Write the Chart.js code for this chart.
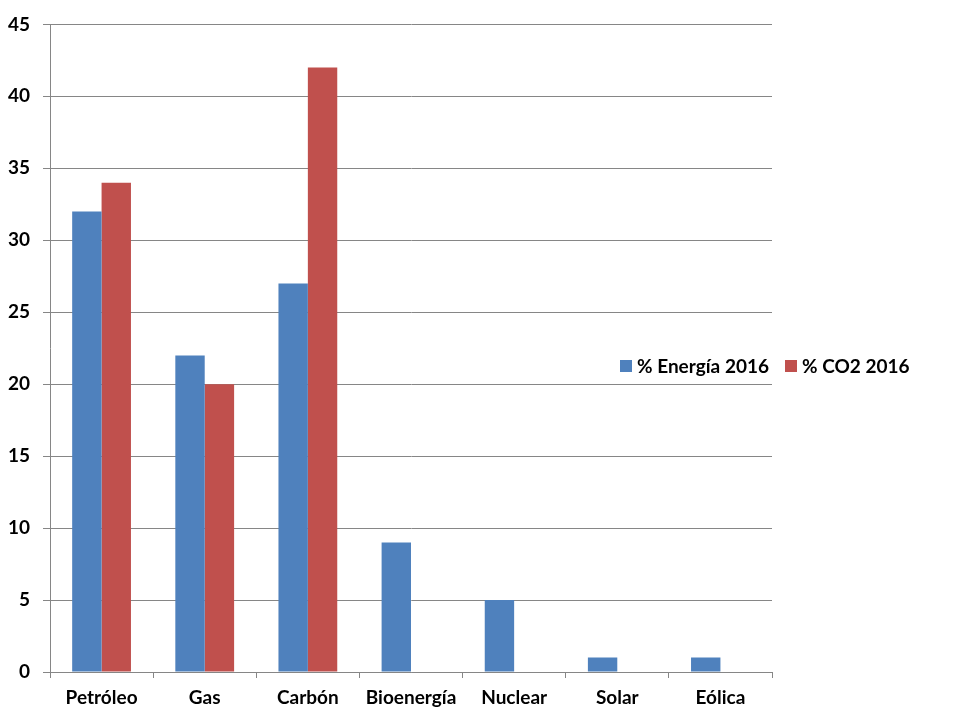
<!DOCTYPE html>
<html>
<head>
<meta charset="utf-8">
<script src="https://cdn.jsdelivr.net/npm/chart.js@4.4.1/dist/chart.umd.min.js"></script>
<style>
  html, body { margin: 0; padding: 0; background: #fff; }
  #wrap { position: relative; width: 960px; height: 720px; }
  #legend { position: absolute; left: 620px; top: 354px; display: flex; font: bold 19px Lato, sans-serif; color: #000; }
  #legend .item { display: flex; align-items: center; margin-right: 16px; }
  #legend .box { width: 12px; height: 12px; margin-right: 5px; }
</style>
</head>
<body>
<div id="wrap">
  <canvas id="grafico" width="960" height="720"></canvas>
  <div id="legend"></div>
</div>
<script>
const categorias = ['Petróleo', 'Gas', 'Carbón', 'Bioenergía', 'Nuclear', 'Solar', 'Eólica'];
const energia2016 = [32, 22, 27, 9, 5, 1, 1];
const co2_2016 = [34, 20, 42, 0, 0, 0, 0];
const ticksY = [0, 5, 10, 15, 20, 25, 30, 35, 40, 45];

const gris = '#868686';
const fuente = { family: 'Lato, sans-serif', size: 19, weight: 'bold' };

const datasets = [
  { label: '% Energía 2016', data: energia2016, backgroundColor: '#4F81BD' },
  { label: '% CO2 2016', data: co2_2016, backgroundColor: '#C0504D' }
];

new Chart(document.getElementById('grafico'), {
  type: 'bar',
  data: { labels: categorias, datasets: datasets },
  options: {
    responsive: false,
    animation: false,
    layout: { padding: { top: 24, right: 188, left: 0, bottom: 0 } },
    datasets: { bar: { categoryPercentage: 0.57, barPercentage: 1 } },
    plugins: { legend: { display: false }, tooltip: { enabled: false } },
    scales: {
      x: {
        grid: { offset: true, drawOnChartArea: false, color: gris, tickLength: 6 },
        border: { color: gris },
        ticks: { color: '#000', font: fuente, padding: 8, maxRotation: 0 },
        afterFit: (s) => { s.height = 48; }
      },
      y: {
        min: 0,
        max: 45,
        afterBuildTicks: (s) => { s.ticks = ticksY.map(v => ({ value: v })); },
        grid: { color: gris, tickLength: 7 },
        border: { color: gris },
        ticks: { color: '#000', font: fuente, padding: 13 },
        afterFit: (s) => { s.width = 50; }
      }
    }
  }
});

// leyenda a la derecha, como en el original
const leyenda = document.getElementById('legend');
datasets.forEach(d => {
  const item = document.createElement('div');
  item.className = 'item';
  item.innerHTML = '<span class="box" style="background:' + d.backgroundColor + '"></span>' + d.label;
  leyenda.appendChild(item);
});
</script>
</body>
</html>
